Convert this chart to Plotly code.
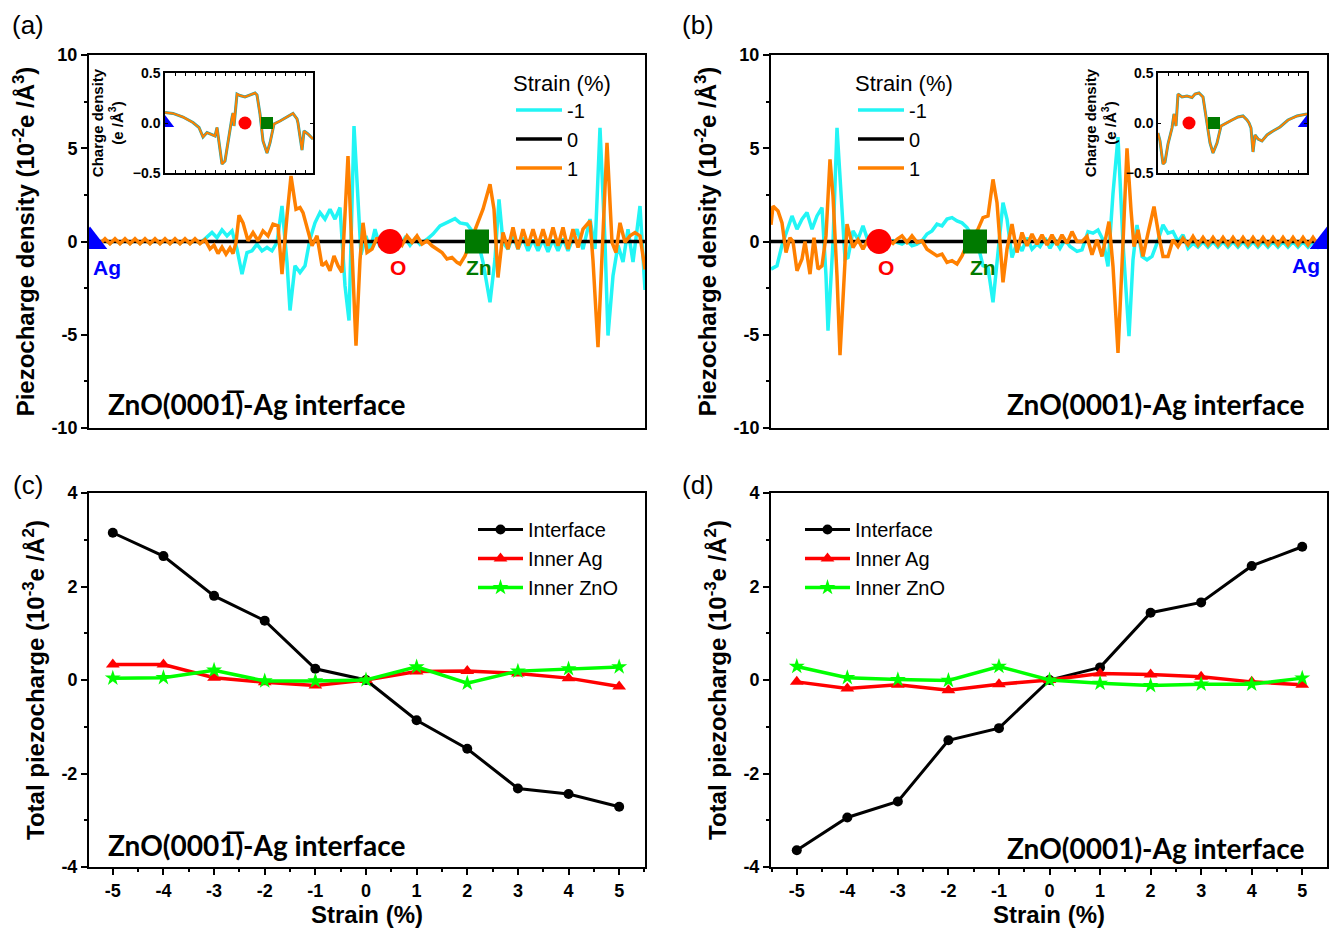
import plotly.graph_objects as go

# ---------------- (a) ZnO(000-1)-Ag : piezocharge density along z (Å) ----------------
za_m1 = [0.0, 0.5, 1.0, 1.5, 2.0, 2.5, 3.0, 3.5, 4.0, 4.5, 5.0, 5.5, 6.0, 6.5, 7.0, 7.5, 8.0, 8.5,
         9.0, 9.5, 10.0, 10.5, 11.0, 11.5,
         12.2, 12.7, 13.2, 13.7, 14.2, 14.7, 15.2, 15.7, 16.2, 16.7,
         17.2, 17.7, 18.2, 18.7, 19.2, 19.7, 20.0, 20.5, 21.0, 21.5,
         22.0, 22.5, 23.0, 23.5, 24.0, 24.5, 25.0, 25.5, 25.9, 26.4,
         27.1, 27.6, 28.0, 28.5, 29.0, 29.5, 30.0, 30.5, 31.0, 31.5,
         32.0, 32.5, 33.0, 33.7, 34.3, 35.0, 35.7, 36.5, 37.0, 37.7,
         38.3, 38.8, 39.3, 40.0, 40.5, 40.9, 41.3, 41.8, 42.3, 42.8,
         43.3, 43.8, 44.3, 44.8, 45.3, 45.8, 46.3, 46.8, 47.3, 47.8,
         48.3, 48.7, 49.3, 50.0, 50.5, 51.0, 51.5, 51.8, 52.3, 52.8,
         53.3, 53.8, 54.3, 55.0, 55.5]
rho_a_m1 = [0.0, 0.08, -0.1, 0.08, -0.1, 0.08, -0.1, 0.08, -0.1, 0.08, -0.1, 0.08, -0.1, 0.08, -0.1,
            0.08, -0.1, 0.08, -0.1, 0.08, -0.1, 0.08, -0.1, 0.15,
            0.48, 0.2, 0.62, 0.3, 0.57, -0.41, -1.75, -0.59, -0.5, -0.14,
            -0.5, -0.32, -0.5, -0.05, 1.91, -1.12, -3.7, -1.3, -1.66, -1.3,
            0.12, 1.0, 1.55, 1.2, 1.73, 1.2, 1.82, -2.37, -4.24, 6.19,
            -0.7, 0.3, -0.5, 0.66, -0.3, 0.2, 0.0, 0.2, -0.2, 0.2,
            -0.2, 0.15, -0.15, 0.12, 0.4, 0.84, 1.0, 1.23, 1.0, 0.93,
            0.5, 0.0, -1.1, -3.26, -0.94, 2.26, -0.05, -0.41, 0.3, -0.41,
            0.2, -0.5, 0.1, -0.5, 0.1, -0.55, 0.1, -0.5, 0.15, -0.5,
            0.2, 0.66, -0.41, 1.2, -0.4, 6.1, -0.05, -5.04, -1.84, -0.2,
            -1.1, 0.66, -1.1, 1.9, -2.6]

za_0 = [0.0, 55.5]
rho_a_0 = [0.0, 0.0]

za_p1 = [0.0, 0.5, 1.0, 1.5, 2.0, 2.5, 3.0, 3.5, 4.0, 4.5, 5.0, 5.5, 6.0, 6.5, 7.0, 7.5, 8.0, 8.5,
         9.0, 9.5, 10.0, 10.5, 11.0, 11.5,
         12.0, 12.4, 12.8, 13.2, 13.6, 14.0, 14.3, 14.6, 14.9, 15.3,
         15.8, 16.3, 16.8, 17.3, 17.8, 18.3, 18.8, 19.2, 19.7, 20.1,
         20.6, 21.0, 21.3, 21.8, 22.2, 22.7, 23.2, 23.6, 24.0, 24.4,
         24.8, 25.2, 25.8, 26.6, 27.0, 27.3, 27.7, 28.2, 28.7, 29.2,
         29.7, 30.2, 30.7, 31.2, 31.7, 32.2, 32.7, 33.2, 33.7, 34.2,
         34.7, 35.2, 35.7, 36.2, 36.7, 37.0, 37.5, 38.0, 38.7, 39.3,
         40.0, 40.4, 40.8, 41.3, 41.8, 42.3, 42.8, 43.3, 43.8, 44.3,
         44.8, 45.3, 45.8, 46.3, 46.8, 47.3, 47.8, 48.3, 48.8, 49.3,
         50.0, 50.3, 50.8, 51.3, 51.7, 52.2, 52.6, 53.0, 53.5, 54.0,
         54.5, 55.0, 55.5]
rho_a_p1 = [0.0, 0.15, -0.12, 0.15, -0.12, 0.15, -0.12, 0.15, -0.12, 0.15, -0.12, 0.15, -0.12,
            0.15, -0.12, 0.15, -0.12, 0.15, -0.12, 0.15, -0.12, 0.15, -0.12, 0.1,
            -0.4, -0.2, -0.65, -0.3, -0.68, -0.35, -0.65, -0.05, 1.41, 1.0,
            0.04, 0.48, 0.04, 0.57, 0.3, 0.93, 0.84, -1.75, 1.37, 3.51,
            1.73, 1.82, 1.55, 0.48, -0.23, 0.3, -1.3, -1.12, -1.57, -0.77,
            -1.3, -1.66, 4.58, -5.58, -1.0, 1.0, -0.59, -0.41, 0.2, -0.2,
            0.15, -0.1, 0.1, -0.2, 0.3, -0.05, 0.3, -0.14, 0.04, -0.23,
            -0.41, -0.59, -0.94, -0.86, -1.12, -1.21, -0.77, -0.1, 0.84, 1.73,
            3.07, 1.73, -1.93, 0.48, -0.41, 0.75, -0.41, 0.66, -0.23, 0.66,
            -0.23, 0.66, -0.23, 0.75, -0.23, 0.75, -0.41, 0.66, -0.32, 0.66,
            1.1, -1.03, -5.67, 0.84, 5.29, -0.05, -0.59, 1.0, -0.05, 0.3,
            0.48, 0.3, -1.5]

# atom sites in (a): Ag surface, interface O, interface Zn
za_ag, za_o, za_zn = 0.0, 30.0, 38.7

# ---------------- (b) ZnO(0001)-Ag ----------------
zb_m1 = [0.0, 0.6, 1.1, 1.6, 2.1, 2.6, 3.1, 3.6, 4.1, 4.6,
         5.1, 5.5, 5.7, 6.2, 6.6, 7.0, 7.4, 7.7, 8.2, 8.7,
         9.2, 9.7, 10.2, 10.7, 11.2, 11.7, 12.2, 12.6, 13.1, 13.6,
         14.1, 14.6, 15.1, 15.6, 16.1, 16.6, 17.1, 17.6, 18.1, 18.6,
         19.1, 19.6, 20.1, 20.7, 21.2, 21.7, 22.2, 22.6, 23.2, 23.6,
         24.1, 24.6, 25.1, 25.6, 26.1, 26.6, 26.9, 27.4, 27.9, 28.4,
         28.9, 29.4, 29.9, 30.6, 31.1, 31.7, 32.2, 32.7, 33.2, 33.7,
         34.2, 34.7, 35.2, 35.8, 36.2, 36.6, 37.1, 37.6, 38.1, 38.6,
         39.2, 39.7, 40.2, 40.7, 41.2, 41.7, 42.2, 42.7,
         43.2, 43.7, 44.2, 44.7, 45.2, 45.7, 46.2, 46.7, 47.2, 47.7, 48.2, 48.7,
         49.2, 49.7, 50.2, 50.7, 51.2, 51.7, 52.2, 52.7, 53.2, 53.7, 54.2, 54.7,
         55.2, 55.6]
rho_b_m1 = [-1.48, -1.3, -0.2, 0.66, 1.37, 0.66, 1.2, 1.55, 0.66, 1.37,
            1.82, -1.84, -4.78, -0.05, 6.1, 2.6, -0.94, -0.86, 0.57, 0.12,
            0.84, 0.04, 0.3, 0.0, 0.1, -0.05, 0.05, -0.05, -0.14, 0.04,
            -0.23, -0.14, 0.04, 0.4, 0.57, 0.93, 0.84, 1.2, 1.28, 1.1,
            1.0, 0.75, 0.3, -0.2, -1.3, -1.39, -3.26, -0.94, 2.08, 1.2,
            -0.86, -0.05, -0.5, 0.2, -0.41, -0.14, -0.27, 0.18, -0.36, 0.09,
            -0.36, 0.09, -0.27, -0.53, -0.45, 0.53, 0.45, 0.62, 0.09, -1.34,
            2.58, 5.6, -0.09, -5.08, -0.98, 0.89, -0.8, -0.98, -0.8, -0.09,
            0.89, 0.45, 0.53, 0.0, 0.36, -0.36, -0.09, -0.3,
            0.0, -0.3, 0.0, -0.3, 0.0, -0.3, 0.0, -0.3, 0.0, -0.3, 0.0, -0.3,
            0.0, -0.3, 0.0, -0.3, 0.0, -0.3, 0.0, -0.3, 0.0, -0.3, 0.0, -0.3,
            0.0, -0.1]

zb_0 = [0.0, 55.6]
rho_b_0 = [0.0, 0.0]

zb_p1 = [0.0, 0.2, 0.7, 1.1, 1.5, 1.9, 2.2, 2.6, 3.1, 3.4,
         3.9, 4.3, 4.7, 5.1, 5.5, 5.9, 6.2, 6.6, 6.9, 7.3,
         7.6, 8.0, 8.2, 8.7, 9.2, 9.7, 10.2, 10.7, 11.2, 11.7,
         12.2, 12.6, 13.1, 13.6, 14.1, 14.6, 15.1, 15.6, 16.1, 16.6,
         17.1, 17.6, 18.1, 18.6, 19.1, 19.6, 20.1, 20.7, 21.2, 21.7,
         22.2, 22.6, 23.2, 23.6, 24.1, 24.6, 25.1, 25.6, 26.1, 26.6,
         27.1, 27.6, 28.1, 28.6, 29.1, 29.6, 30.1, 30.6, 31.1, 31.6,
         32.1, 32.6, 33.1, 33.5, 33.8, 34.2, 34.7, 35.2, 35.6, 36.0,
         36.3, 36.7, 37.2, 37.7, 38.3, 38.8, 39.2, 39.7, 40.2, 40.7,
         41.2, 41.7, 42.2,
         42.7, 43.2, 43.7, 44.2, 44.7, 45.2, 45.7, 46.2, 46.7, 47.2, 47.7, 48.2, 48.7,
         49.2, 49.7, 50.2, 50.7, 51.2, 51.7, 52.2, 52.7, 53.2, 53.7, 54.2, 54.7,
         55.2, 55.6]
rho_b_p1 = [0.9, 1.9, 1.64, 1.0, -0.59, 0.2, 0.0, -1.57, -0.94, 0.0,
            -1.75, 0.2, -1.48, -1.3, 0.3, 4.4, 2.44, -1.84, -6.1, -2.2,
            0.93, 0.1, -0.32, 0.1, -0.41, 0.1, -0.2, 0.1, -0.1, 0.1,
            -0.1, 0.12, 0.3, -0.05, 0.3, -0.05, 0.04, -0.41, -0.59, -0.77,
            -0.68, -1.12, -1.03, -1.21, -0.77, -0.14, 0.2, 0.66, 1.28, 1.37,
            3.33, 2.08, -2.19, -0.41, 0.93, -0.59, 0.48, -0.23, 0.4, -0.14,
            0.36, -0.18, 0.36, -0.18, 0.36, -0.1, 0.53, 0.0, 0.0, 0.27,
            -0.71, 0.09, -0.8, 0.27, 1.07, -1.34, -5.97, -0.09, 4.99, 1.69,
            -0.27, 0.62, -0.8, 0.45, 1.87, 0.27, -0.8, -0.8, 0.09, -0.27,
            0.18, -0.18, 0.27,
            -0.18, 0.22, -0.18, 0.22, -0.18, 0.22, -0.18, 0.22, -0.18, 0.22, -0.18, 0.22, -0.18,
            0.22, -0.18, 0.22, -0.18, 0.22, -0.18, 0.22, -0.18, 0.22, -0.18, 0.22, -0.18,
            0.1, 0.0]

zb_o, zb_zn, zb_ag = 10.8, 20.4, 55.6

# ---------------- insets: total charge density (e/Å^3) ----------------
zi_a = [0.0, 0.8, 1.8, 2.8, 3.4, 3.8, 4.2, 4.7, 5.0, 5.2, 5.4, 5.7, 6.0, 6.3, 6.7, 6.8, 6.9,
        7.2, 7.5, 8.0, 8.5, 9.0, 9.2, 9.5, 9.8, 10.2, 10.5, 10.9, 11.5, 12.2, 12.8, 13.2,
        13.3, 13.7, 13.9, 14.3, 14.8]
rho_i_a = [0.106, 0.096, 0.06, 0.005, -0.045, -0.14, -0.096, -0.12, -0.13, -0.045, -0.18,
           -0.41, -0.38, -0.18, 0.055, 0.1, -0.03, 0.29, 0.275, 0.26, 0.28, 0.30, 0.28, 0.09,
           -0.18, -0.30, -0.2, -0.01, 0.02, 0.06, 0.096, 0.04, 0.0, -0.27, -0.08, -0.11, -0.16]
zi_a_ag, zi_a_o, zi_a_zn = 0.0, 8.0, 10.2

zi_b = [0.0, 0.2, 0.5, 0.7, 1.0, 1.4, 1.6, 1.8, 2.0, 2.4, 2.9, 3.4, 3.7, 4.1, 4.5, 4.9, 5.2,
        5.5, 5.9, 6.3, 6.7, 7.4, 8.0, 8.5, 8.9, 9.1, 9.3, 9.5, 9.7, 10.0, 10.4, 10.9, 11.5,
        12.2, 13.0, 13.9, 14.9]
rho_i_b = [-0.1, -0.18, -0.41, -0.39, -0.21, -0.05, 0.09, -0.03, 0.29, 0.26, 0.27, 0.255,
           0.29, 0.30, 0.26, 0.0, -0.2, -0.3, -0.2, -0.03, -0.005, 0.03, 0.06, 0.07, 0.03,
           0.0, -0.05, -0.29, -0.12, -0.16, -0.18, -0.12, -0.08, -0.04, 0.03, 0.07, 0.09]
zi_b_o, zi_b_zn, zi_b_ag = 3.1, 5.6, 14.9

# ---------------- (c), (d): total piezocharge vs strain (10^-3 e/Å^2) ----------------
strain = [-5, -4, -3, -2, -1, 0, 1, 2, 3, 4, 5]
c_interface = [3.15, 2.65, 1.80, 1.27, 0.24, 0.0, -0.86, -1.47, -2.32, -2.44, -2.71]
c_inner_ag = [0.33, 0.33, 0.05, -0.05, -0.12, 0.0, 0.18, 0.19, 0.14, 0.04, -0.14]
c_inner_zno = [0.04, 0.05, 0.21, -0.02, -0.02, 0.0, 0.28, -0.07, 0.19, 0.24, 0.28]
d_interface = [-3.64, -2.94, -2.60, -1.29, -1.03, 0.0, 0.27, 1.44, 1.66, 2.44, 2.85]
d_inner_ag = [-0.04, -0.18, -0.10, -0.22, -0.09, 0.0, 0.14, 0.12, 0.07, -0.04, -0.10]
d_inner_zno = [0.29, 0.05, 0.01, -0.01, 0.29, 0.0, -0.07, -0.12, -0.09, -0.09, 0.04]

# tick labels (plain hyphen minus)
dens_ticks = [-10, -5, 0, 5, 10]
dens_ticktext = ["-10", "-5", "0", "5", "10"]
tot_ticks = [-4, -2, 0, 2, 4]
tot_ticktext = ["-4", "-2", "0", "2", "4"]
strain_ticktext = ["-5", "-4", "-3", "-2", "-1", "0", "1", "2", "3", "4", "5"]

# ---------------- styling ----------------
W, H = 1333, 928
CYAN, ORANGE, BLACK = "#22F5F5", "#FF8000", "#000000"
AG_BLUE, O_RED, ZN_GREEN = "#0000FF", "#FF0000", "#007A00"
ARIAL = "Liberation Sans"


def px_x(a, b):
    return [a / W, b / W]


def px_y(top, bottom):
    return [1 - bottom / H, 1 - top / H]


fig = go.Figure()


def density_panel(xa, ya, legend, z_m1, r_m1, z_0, r_0, z_p1, r_p1, sites):
    xref, yref = xa.replace("axis", ""), ya.replace("axis", "")
    fig.add_trace(go.Scatter(x=z_m1, y=r_m1, mode="lines", name="-1", legend=legend,
                             line=dict(color=CYAN, width=3.5), xaxis=xref, yaxis=yref))
    fig.add_trace(go.Scatter(x=z_0, y=r_0, mode="lines", name="0", legend=legend,
                             line=dict(color=BLACK, width=3.5), xaxis=xref, yaxis=yref))
    fig.add_trace(go.Scatter(x=z_p1, y=r_p1, mode="lines", name="1", legend=legend,
                             line=dict(color=ORANGE, width=3.5), xaxis=xref, yaxis=yref))
    for z, sym, col, size in sites:
        fig.add_trace(go.Scatter(x=[z], y=[0], mode="markers", showlegend=False,
                                 marker=dict(symbol=sym, color=col, size=size, line=dict(width=0)),
                                 xaxis=xref, yaxis=yref))


def inset_panel(xa, ya, z, r, sites):
    xref, yref = xa.replace("axis", ""), ya.replace("axis", "")
    fig.add_trace(go.Scatter(x=z, y=r, mode="lines", showlegend=False,
                             line=dict(color="#1FA6A6", width=3), xaxis=xref, yaxis=yref))
    fig.add_trace(go.Scatter(x=z, y=r, mode="lines", showlegend=False,
                             line=dict(color=ORANGE, width=2), xaxis=xref, yaxis=yref))
    for zz, sym, col, size in sites:
        fig.add_trace(go.Scatter(x=[zz], y=[0], mode="markers", showlegend=False,
                                 marker=dict(symbol=sym, color=col, size=size, line=dict(width=0)),
                                 xaxis=xref, yaxis=yref))


def strain_panel(xa, ya, legend, inter, ag, zno):
    xref, yref = xa.replace("axis", ""), ya.replace("axis", "")
    fig.add_trace(go.Scatter(x=strain, y=inter, mode="lines+markers", name="Interface", legend=legend,
                             line=dict(color=BLACK, width=3), marker=dict(symbol="circle", size=10),
                             xaxis=xref, yaxis=yref))
    fig.add_trace(go.Scatter(x=strain, y=ag, mode="lines+markers", name="Inner Ag", legend=legend,
                             line=dict(color="#FF0000", width=3.5), marker=dict(symbol="triangle-up", size=12),
                             xaxis=xref, yaxis=yref))
    fig.add_trace(go.Scatter(x=strain, y=zno, mode="lines+markers", name="Inner ZnO", legend=legend,
                             line=dict(color="#00FF00", width=3.5), marker=dict(symbol="star", size=12),
                             xaxis=xref, yaxis=yref))


density_panel("xaxis", "yaxis", "legend", za_m1, rho_a_m1, za_0, rho_a_0, za_p1, rho_a_p1,
              [(za_ag, "triangle-up", AG_BLUE, 30), (za_o, "circle", O_RED, 25),
               (za_zn, "square", ZN_GREEN, 24)])
density_panel("xaxis2", "yaxis2", "legend2", zb_m1, rho_b_m1, zb_0, rho_b_0, zb_p1, rho_b_p1,
              [(zb_ag, "triangle-up", AG_BLUE, 30), (zb_o, "circle", O_RED, 25),
               (zb_zn, "square", ZN_GREEN, 24)])
strain_panel("xaxis3", "yaxis3", "legend3", c_interface, c_inner_ag, c_inner_zno)
strain_panel("xaxis4", "yaxis4", "legend4", d_interface, d_inner_ag, d_inner_zno)
inset_panel("xaxis5", "yaxis5", zi_a, rho_i_a,
            [(zi_a_ag, "triangle-up", AG_BLUE, 16), (zi_a_o, "circle", O_RED, 13),
             (zi_a_zn, "square", ZN_GREEN, 12)])
inset_panel("xaxis6", "yaxis6", zi_b, rho_i_b,
            [(zi_b_ag, "triangle-up", AG_BLUE, 16), (zi_b_o, "circle", O_RED, 13),
             (zi_b_zn, "square", ZN_GREEN, 12)])

tick_font = dict(family=ARIAL, size=18, color="black", weight="bold")
title_font = dict(family=ARIAL, size=24, color="black")
axis_common = dict(showline=True, linecolor="black", linewidth=2, mirror=True, automargin=False,
                   showgrid=False, zeroline=False, tickcolor="black", tickwidth=2)
inset_common = dict(showline=True, linecolor="black", linewidth=1.5, mirror="allticks",
                    automargin=False, showgrid=False, zeroline=False, tickcolor="black",
                    ticks="inside", ticklen=3)
inset_tickfont = dict(family=ARIAL, size=14, color="black", weight="bold")
inset_title = dict(text="<b>Charge density<br>(e /Å<sup>3</sup>)</b>",
                   font=dict(family=ARIAL, size=15, color="black"), standoff=6)

dens_title = "<b>Piezocharge density (10<sup>-2</sup>e /Å<sup>3</sup>)</b>"
tot_title = "<b>Total piezocharge (10<sup>-3</sup>e /Å<sup>2</sup>)</b>"


def dens_y(anchor):
    return dict(domain=px_y(55, 428), range=[-10, 10], tickvals=dens_ticks, ticktext=dens_ticktext,
                ticks="outside", ticklen=6, tickfont=tick_font,
                title=dict(text=dens_title, font=title_font, standoff=10),
                minor=dict(dtick=2.5, ticks="outside", ticklen=3, tickcolor="black"),
                anchor=anchor, **axis_common)


def tot_y(anchor):
    return dict(domain=px_y(493, 867), range=[-4, 4], tickvals=tot_ticks, ticktext=tot_ticktext,
                ticks="outside", ticklen=6, tickfont=tick_font,
                title=dict(text=tot_title, font=title_font, standoff=10),
                minor=dict(dtick=1, ticks="outside", ticklen=3, tickcolor="black"),
                anchor=anchor, **axis_common)


def strain_x(domain, rng, anchor):
    return dict(domain=domain, range=rng, tickvals=strain, ticktext=strain_ticktext,
                ticks="outside", ticklen=6, tickfont=tick_font,
                title=dict(text="<b>Strain (%)</b>", font=title_font, standoff=2),
                minor=dict(dtick=0.5, ticks="outside", ticklen=3, tickcolor="black"),
                anchor=anchor, **axis_common)


layout = dict(
    width=W, height=H, margin=dict(l=0, r=0, t=0, b=0),
    paper_bgcolor="white", plot_bgcolor="white",
    xaxis=dict(domain=px_x(89, 645), range=[-0.1, 55.5], showticklabels=False, ticks="",
               anchor="y", **axis_common),
    yaxis=dens_y("x"),
    xaxis2=dict(domain=px_x(771, 1327), range=[0.0, 55.6], showticklabels=False, ticks="",
                anchor="y2", **axis_common),
    yaxis2=dens_y("x2"),
    xaxis3=strain_x(px_x(89, 645), [-5.47, 5.51], "y3"),
    yaxis3=tot_y("x3"),
    xaxis4=strain_x(px_x(771, 1327), [-5.51, 5.49], "y4"),
    yaxis4=tot_y("x4"),
    xaxis5=dict(domain=px_x(165, 313), range=[0, 14.8], showticklabels=False, dtick=1,
                anchor="y5", **inset_common),
    yaxis5=dict(domain=px_y(73, 173), range=[-0.5, 0.5], dtick=0.5, tickformat=".1f",
                tickfont=inset_tickfont, title=inset_title, anchor="x5", **inset_common),
    xaxis6=dict(domain=px_x(1158, 1307), range=[0, 14.9], showticklabels=False, dtick=1,
                anchor="y6", **inset_common),
    yaxis6=dict(domain=px_y(73, 173), range=[-0.5, 0.5], dtick=0.5, tickformat=".1f",
                tickfont=inset_tickfont, title=inset_title, anchor="x6", **inset_common),
)

legend_common = dict(bgcolor="rgba(0,0,0,0)", borderwidth=0, xanchor="left", yanchor="top",
                     font=dict(family=ARIAL, size=20, color="black"), tracegroupgap=0)
strain_title = dict(text="Strain (%)", font=dict(family=ARIAL, size=22, color="black"))
layout["legend"] = dict(x=511 / W, y=1 - 62 / H, title=strain_title, itemwidth=46, **legend_common)
layout["legend2"] = dict(x=853 / W, y=1 - 62 / H, title=strain_title, itemwidth=46, **legend_common)
layout["legend3"] = dict(x=473 / W, y=1 - 510 / H, itemwidth=45, **legend_common)
layout["legend4"] = dict(x=800 / W, y=1 - 510 / H, itemwidth=45, **legend_common)

fig.update_layout(**layout)

# panel letters
for txt, x, y in [("(a)", 28, 25), ("(b)", 698, 25), ("(c)", 28, 485), ("(d)", 698, 485)]:
    fig.add_annotation(text=txt, x=x / W, y=1 - y / H, xref="paper", yref="paper",
                       showarrow=False, xanchor="center", yanchor="middle",
                       font=dict(family=ARIAL, size=26, color="black"))

# interface captions
iface_font = dict(family="Lato", size=28, color="black")
minus_face = "<b>ZnO(000" + "1\u0305" + ")-Ag interface</b>"
plus_face = "<b>ZnO(0001)-Ag interface</b>"
for txt, x, y, anchor in [(minus_face, 106, 404, "left"), (plus_face, 1306, 404, "right"),
                          (minus_face, 106, 845, "left"), (plus_face, 1306, 848, "right")]:
    fig.add_annotation(text=txt, x=x / W, y=1 - y / H, xref="paper", yref="paper",
                       showarrow=False, xanchor=anchor, yanchor="middle", font=iface_font)

# atom labels next to the site markers
atom_font = dict(family=ARIAL, size=21, weight="bold")
for txt, x, y, col in [("Ag", 107, 267, AG_BLUE), ("O", 398, 267, O_RED), ("Zn", 479, 267, ZN_GREEN),
                       ("O", 886, 267, O_RED), ("Zn", 983, 267, ZN_GREEN), ("Ag", 1306, 265, AG_BLUE)]:
    fig.add_annotation(text=txt, x=x / W, y=1 - y / H, xref="paper", yref="paper",
                       showarrow=False, xanchor="center", yanchor="middle",
                       font=dict(color=col, **atom_font))

fig.write_html("out.html")
